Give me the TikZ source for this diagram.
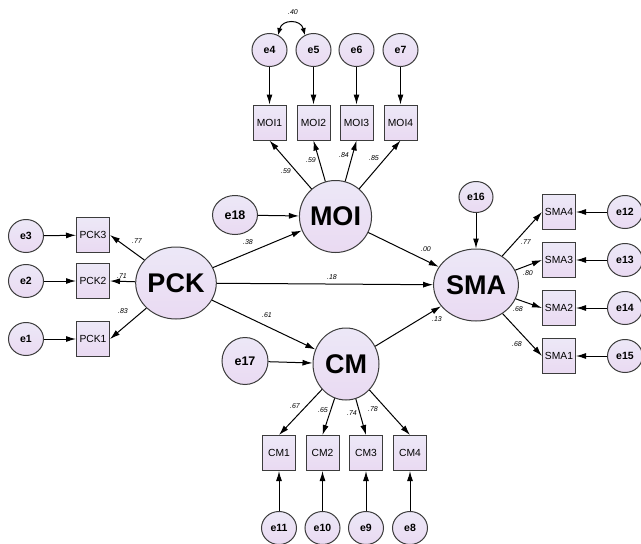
\documentclass[tikz,border=0pt]{standalone}
\usepackage{fontspec}
\setmainfont{Liberation Sans}
\usetikzlibrary{shapes.geometric,arrows.meta}
\definecolor{lavtop}{RGB}{236,232,247}
\definecolor{lavbot}{RGB}{234,218,242}
\definecolor{edgegray}{RGB}{60,60,60}
\tikzset{
  x=1pt, y=-1pt,
  shapefill/.style={top color=lavtop, bottom color=lavbot, draw=edgegray, line width=1pt},
  latent/.style={ellipse, shapefill, minimum width=66pt, minimum height=72pt, inner sep=0pt,
    font=\fontsize{27}{27}\selectfont\bfseries},
  indic/.style={rectangle, shapefill, minimum width=33pt, minimum height=35pt, inner sep=0pt,
    font=\fontsize{10.3}{11}\selectfont},
  err/.style={ellipse, shapefill, minimum width=35pt, minimum height=33pt, inner sep=0pt,
    font=\fontsize{10.5}{10}\selectfont\bfseries},
  bigerr/.style={ellipse, shapefill, inner sep=0pt,
    font=\fontsize{12.5}{12}\selectfont\bfseries},
  coef/.style={inner sep=0pt, font=\fontsize{7}{7}\selectfont\itshape},
  path/.style={draw=black, line width=1pt, -{Latex[length=10pt,width=6pt]}},
  cov/.style={draw=black, line width=1pt, {Latex[length=7pt,width=5.5pt]}-{Latex[length=7pt,width=5.5pt]}}
}
\begin{document}
\begin{tikzpicture}
\fill[white] (0,0) rectangle (641,544);
\useasboundingbox (0,0) rectangle (641,544);

% latent constructs
\node[latent] (PCK) at (176,283) {PCK};
\node[latent] (MOI) at (335.5,216.5) {MOI};
\node[latent] (SMA) at (476,285) {SMA};
\node[latent] (CM)  at (346,364) {CM};

% PCK indicators and errors
\node[indic] (PCK3) at (93,235) {PCK3};
\node[indic] (PCK2) at (93,281) {PCK2};
\node[indic] (PCK1) at (93,339) {PCK1};
\node[err] (e3) at (26,236) {e3};
\node[err] (e2) at (26,281) {e2};
\node[err] (e1) at (26,339) {e1};

% MOI indicators and errors
\node[indic] (MOI1) at (269.5,122.5) {MOI1};
\node[indic] (MOI2) at (313.5,122.5) {MOI2};
\node[indic] (MOI3) at (356.5,122.5) {MOI3};
\node[indic] (MOI4) at (400.5,122.5) {MOI4};
\node[err] (e4) at (269.5,50) {e4};
\node[err] (e5) at (313.5,50) {e5};
\node[err] (e6) at (356.5,50) {e6};
\node[err] (e7) at (400.5,50) {e7};

% SMA indicators and errors
\node[indic] (SMA4) at (559,212) {SMA4};
\node[indic] (SMA3) at (559,260) {SMA3};
\node[indic] (SMA2) at (559,308) {SMA2};
\node[indic] (SMA1) at (559,356) {SMA1};
\node[err] (e12) at (625,212) {e12};
\node[err] (e13) at (625,260) {e13};
\node[err] (e14) at (625,308) {e14};
\node[err] (e15) at (625,356) {e15};

% CM indicators and errors
\node[indic] (CM1) at (279,453) {CM1};
\node[indic] (CM2) at (322.5,453) {CM2};
\node[indic] (CM3) at (366,453) {CM3};
\node[indic] (CM4) at (410,453) {CM4};
\node[err] (e11) at (279,528) {e11};
\node[err] (e10) at (322.5,528) {e10};
\node[err] (e9)  at (366,528) {e9};
\node[err] (e8)  at (410,528) {e8};

% disturbances
\node[err, minimum width=34pt, minimum height=31pt] (e16) at (476,197) {e16};
\node[bigerr, minimum width=45pt, minimum height=39pt] (e18) at (235,215) {e18};
\node[bigerr, minimum width=46pt, minimum height=47pt] (e17) at (245,361) {e17};

% error terms onto indicators
\foreach \e/\v in {e3/PCK3,e2/PCK2,e1/PCK1,e4/MOI1,e5/MOI2,e6/MOI3,e7/MOI4,
                   e12/SMA4,e13/SMA3,e14/SMA2,e15/SMA1,e11/CM1,e10/CM2,e9/CM3,e8/CM4}
  \draw[path] (\e) -- (\v);
\draw[path] (e16) -- (SMA);
\draw[path] (e18) -- (MOI);
\draw[path] (e17) -- (CM);

% loadings
\draw[path] (PCK) -- (PCK3.east);
\draw[path] (PCK) -- (PCK2.east);
\draw[path] (PCK) -- (PCK1.east);
\foreach \v in {MOI1,MOI2,MOI3,MOI4} \draw[path] (MOI) -- (\v.south);
\foreach \v in {SMA4,SMA3,SMA2,SMA1} \draw[path] (SMA) -- (\v.west);
\foreach \v in {CM1,CM2,CM3,CM4} \draw[path] (CM) -- (\v.north);

% structural paths
\draw[path] (PCK) -- (MOI);
\draw[path] (PCK) -- (SMA);
\draw[path] (PCK) -- (CM);
\draw[path] (MOI) -- (SMA);
\draw[path] (CM) -- (SMA);

% error covariance
\draw[cov] (e4.60) .. controls +(4,-16) and +(-4,-16) .. (e5.120);

% coefficients
\node[coef] (c45) at (293,12) {.40};
\node[coef] (m1) at (286,171) {.59};
\node[coef] (m2) at (311,160) {.59};
\node[coef] (m3) at (344,155) {.84};
\node[coef] (m4) at (374,158) {.85};
\node[coef] (p3) at (137,241) {.77};
\node[coef] (p2) at (122,276) {.71};
\node[coef] (p1) at (123,311) {.83};
\node[coef] (b1) at (248,242) {.38};
\node[coef] (b2) at (332,277) {.18};
\node[coef] (b3) at (267,315) {.61};
\node[coef] (b4) at (426,249) {.00};
\node[coef] (b5) at (437,319) {.13};
\node[coef] (s4) at (526,242) {.77};
\node[coef] (s3) at (528,273) {.80};
\node[coef] (s2) at (518,309) {.68};
\node[coef] (s1) at (517,344) {.68};
\node[coef] (k1) at (295,406) {.67};
\node[coef] (k2) at (323,410) {.65};
\node[coef] (k3) at (352,413) {.74};
\node[coef] (k4) at (373,409) {.78};
\end{tikzpicture}
\end{document}
